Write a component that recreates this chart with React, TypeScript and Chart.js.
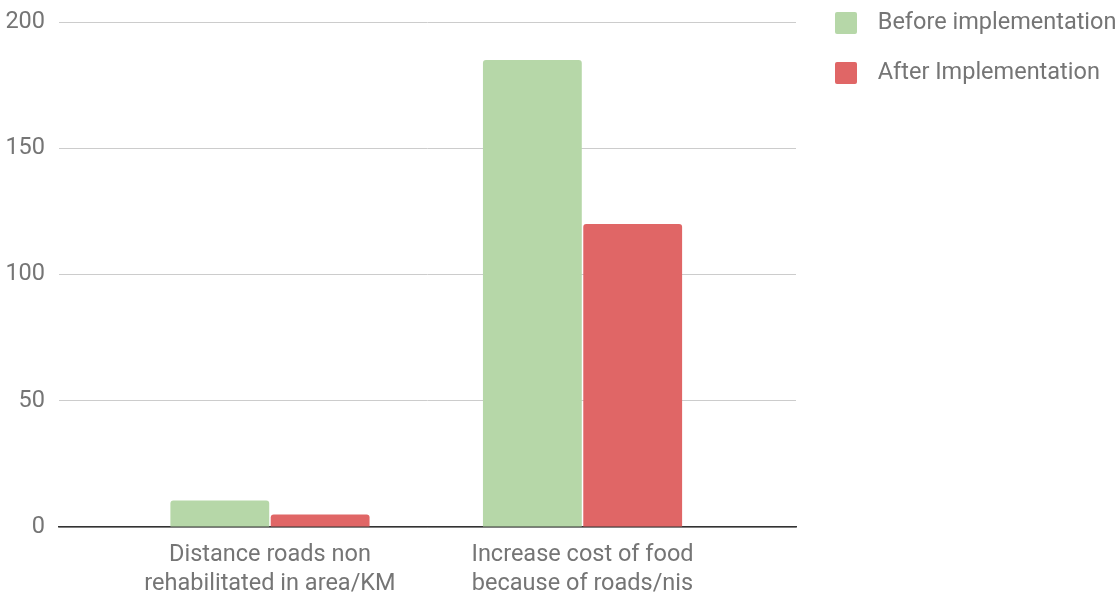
import React, { useEffect, useRef } from "react";
import { Chart, registerables } from "chart.js";

Chart.register(...registerables);

const categories: string[][] = [
  ["Distance roads non", "rehabilitated in area/KM"],
  ["Increase cost of food", "because of roads/nis"],
];
const seriesNames = ["Before implementation", "After Implementation"];
const beforeValues = [10.5, 185];
const afterValues = [5, 120];
const yTicks = [0, 50, 100, 150, 200];
const colors = ["#b6d7a8", "#e06666"];

const TEXT = "#757575";
const FONT = "Roboto";
const FS = 23.5;

function makeIcon(color: string): HTMLCanvasElement {
  const c = document.createElement("canvas");
  c.width = 31;
  c.height = 22;
  const ctx = c.getContext("2d")!;
  ctx.fillStyle = color;
  ctx.beginPath();
  (ctx as any).roundRect ? (ctx as any).roundRect(0, 0, 22, 22, 2) : ctx.rect(0, 0, 22, 22);
  ctx.fill();
  return c;
}

export default function App() {
  const ref = useRef<HTMLCanvasElement>(null);
  useEffect(() => {
    const icons = colors.map(makeIcon);
    const LEGEND_W = 1119 - 796;
    const LEG_PAD = 50 - FS;
    const legendPatch = {
      id: "legendPatch",
      beforeLayout(chart: any) {
        const lg = chart.legend;
        if (lg && !lg._patched) {
          const orig = lg.fit.bind(lg);
          lg.fit = () => {
            orig();
            lg.width = LEGEND_W;
          };
          lg._patched = true;
        }
      },
      afterLayout(chart: any) {
        const lg = chart.legend;
        if (lg) {
          lg.left = 835 - LEG_PAD;
          lg.top = 23 - FS / 2 - LEG_PAD;
        }
      },
    };
    const chart = new Chart(ref.current!, {
      type: "bar",
      data: {
        datasets: [
          {
            label: seriesNames[0],
            data: beforeValues.map((v, i) => ({ x: i, y: v })),
            backgroundColor: colors[0],
            borderRadius: 3,
            borderSkipped: "start",
            categoryPercentage: 0.642,
            barPercentage: 0.985,
          },
          {
            label: seriesNames[1],
            data: afterValues.map((v, i) => ({ x: i, y: v })),
            backgroundColor: colors[1],
            borderRadius: 3,
            borderSkipped: "start",
            categoryPercentage: 0.642,
            barPercentage: 0.985,
          },
        ],
      },
      options: {
        responsive: false,
        animation: false,
        layout: { padding: { top: 22, left: 0, right: 0, bottom: 0 } },
        plugins: {
          tooltip: { enabled: false },
          legend: {
            position: "right",
            align: "start",
            labels: {
              usePointStyle: true,
              pointStyleWidth: 31,
              boxHeight: 22,
              padding: LEG_PAD,
              color: TEXT,
              font: { family: FONT, size: FS },
              generateLabels: (ch: any) => {
                const items = (Chart.defaults.plugins.legend.labels as any).generateLabels(ch);
                return items.map((it: any, i: number) => ({ ...it, pointStyle: icons[i] }));
              },
            },
          },
        },
        scales: {
          x: {
            type: "linear",
            offset: false,
            bounds: "data",
            min: -0.675,
            max: 1.683,
            grid: { display: false, drawTicks: false, offset: false },
            border: { display: true, color: "#333333", width: 1.5 },
            afterBuildTicks: (scale: any) => {
              scale.ticks = categories.map((_, i) => ({ value: i }));
            },
            afterFit: (scale: any) => {
              scale.height = 67;
              scale.paddingLeft = 0;
              scale.paddingRight = 0;
            },
            ticks: {
              autoSkip: false,
              maxRotation: 0,
              padding: 14,
              color: TEXT,
              font: { family: FONT, size: FS, lineHeight: 29 / FS },
              callback: (v: any) => categories[v as number] ?? "",
            },
          },
          y: {
            min: 0,
            max: 200,
            grid: { color: "#cccccc", lineWidth: 1, drawTicks: false },
            border: { display: false },
            afterBuildTicks: (scale: any) => {
              scale.ticks = yTicks.map((v) => ({ value: v }));
            },
            afterFit: (scale: any) => {
              scale.width = 59;
              scale.paddingTop = 0;
              scale.paddingBottom = 0;
            },
            ticks: {
              padding: 14,
              color: TEXT,
              font: { family: FONT, size: FS },
            },
          },
        },
      },
      plugins: [legendPatch],
    } as any);
    return () => chart.destroy();
  }, []);
  return (
    <div style={{ position: "absolute", left: 0, top: 0, width: 1119, height: 594, background: "#fff" }}>
      <canvas ref={ref} width={1119} height={594} />
    </div>
  );
}
